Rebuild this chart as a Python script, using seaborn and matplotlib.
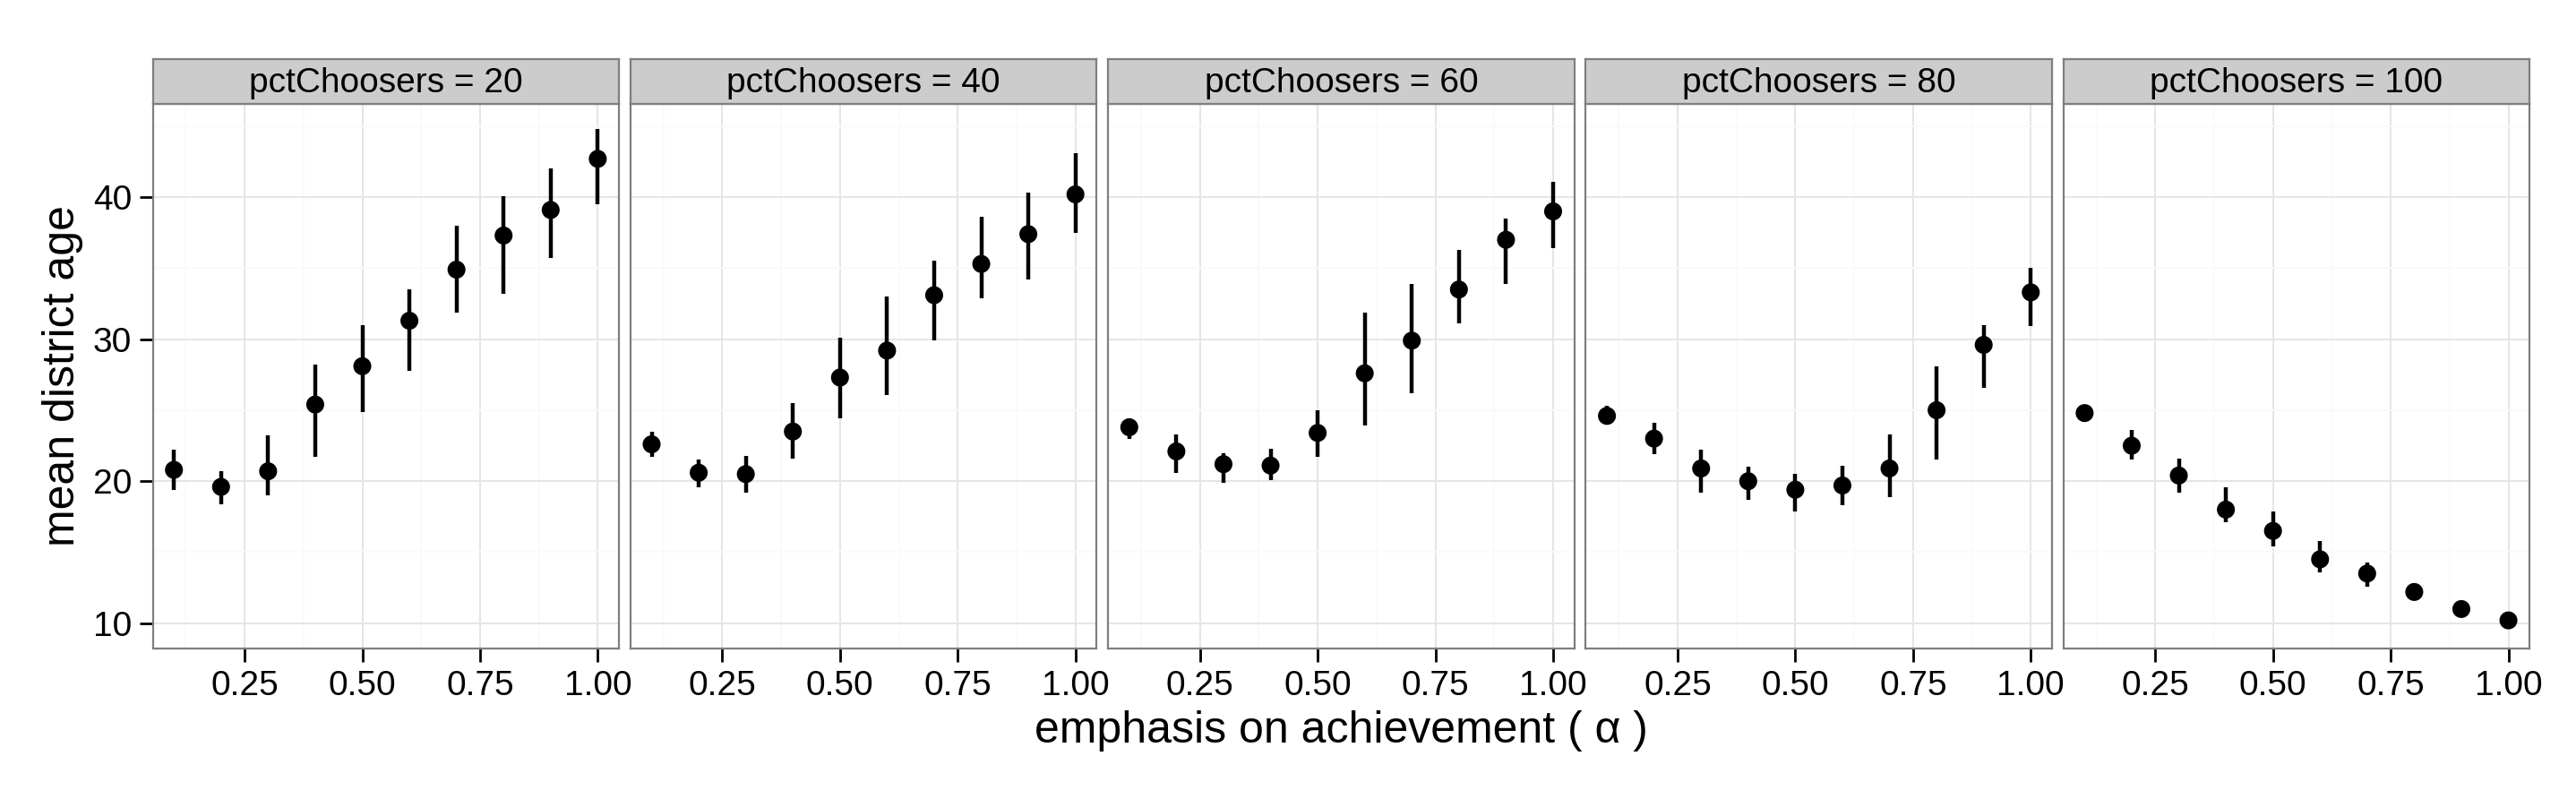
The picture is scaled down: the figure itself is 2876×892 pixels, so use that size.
import pandas as pd
import matplotlib
matplotlib.use("Agg")
import matplotlib.pyplot as plt
import seaborn as sns

# emphasis on achievement (alpha) values, shared by all panels
alpha = [0.1, 0.2, 0.3, 0.4, 0.5, 0.6, 0.7, 0.8, 0.9, 1.0]
pct_choosers = [20, 40, 60, 80, 100]

# mean district age and interval bounds
age_20 = [20.8, 19.6, 20.7, 25.4, 28.1, 31.3, 34.9, 37.3, 39.1, 42.7]
lo_20 = [19.4, 18.4, 19.0, 21.7, 24.9, 27.8, 31.9, 33.2, 35.7, 39.5]
hi_20 = [22.2, 20.7, 23.2, 28.2, 31.0, 33.5, 38.0, 40.1, 42.0, 44.8]

age_40 = [22.6, 20.6, 20.5, 23.5, 27.3, 29.2, 33.1, 35.3, 37.4, 40.2]
lo_40 = [21.7, 19.6, 19.2, 21.6, 24.4, 26.1, 29.9, 32.9, 34.2, 37.5]
hi_40 = [23.5, 21.5, 21.8, 25.5, 30.1, 33.0, 35.5, 38.6, 40.3, 43.1]

age_60 = [23.8, 22.1, 21.2, 21.1, 23.4, 27.6, 29.9, 33.5, 37.0, 39.0]
lo_60 = [23.0, 20.6, 19.9, 20.1, 21.7, 23.9, 26.2, 31.1, 33.9, 36.4]
hi_60 = [24.4, 23.3, 22.0, 22.3, 25.0, 31.9, 33.9, 36.3, 38.5, 41.1]

age_80 = [24.6, 23.0, 20.9, 20.0, 19.4, 19.7, 20.9, 25.0, 29.6, 33.3]
lo_80 = [24.1, 21.9, 19.2, 18.7, 17.9, 18.3, 18.9, 21.5, 26.6, 30.9]
hi_80 = [25.3, 24.1, 22.2, 21.0, 20.5, 21.1, 23.3, 28.1, 31.0, 35.0]

age_100 = [24.8, 22.5, 20.4, 18.0, 16.5, 14.5, 13.5, 12.2, 11.0, 10.2]
lo_100 = [24.2, 21.5, 19.2, 17.1, 15.4, 13.6, 12.6, 11.9, 10.8, 10.1]
hi_100 = [25.3, 23.6, 21.6, 19.6, 17.9, 15.8, 14.3, 12.8, 11.2, 10.4]

series = {
    20: (age_20, lo_20, hi_20),
    40: (age_40, lo_40, hi_40),
    60: (age_60, lo_60, hi_60),
    80: (age_80, lo_80, hi_80),
    100: (age_100, lo_100, hi_100),
}

frames = []
for p in pct_choosers:
    age, lo, hi = series[p]
    frames.append(pd.DataFrame({'alpha': alpha, 'pctChoosers': p,
                                'age': age, 'lo': lo, 'hi': hi}))
df = pd.concat(frames, ignore_index=True)

sns.set_style("white")
plt.rcParams['font.family'] = ['Liberation Sans', 'DejaVu Sans']
plt.rcParams['text.color'] = 'black'
plt.rcParams['axes.labelcolor'] = 'black'
plt.rcParams['xtick.color'] = 'black'
plt.rcParams['ytick.color'] = 'black'


def draw_ranges(data, **kws):
    ax = plt.gca()
    ax.vlines(data['alpha'], data['lo'], data['hi'], color='black',
              linewidth=1.6, zorder=3)


g = sns.FacetGrid(df, col='pctChoosers', col_order=pct_choosers,
                  sharex=True, sharey=True, height=4, aspect=0.6)
g.map_dataframe(draw_ranges)
g.map_dataframe(sns.scatterplot, x='alpha', y='age', color='black',
                s=52, edgecolor='none', zorder=4)

fig = g.figure
fig.set_size_inches(14.38, 4.46)
fig.subplots_adjust(left=0.0593, right=0.982, bottom=0.188, top=0.8705,
                    wspace=0.0246)
g.set_titles("")
g.set_axis_labels("", "")

for i, (ax, p) in enumerate(zip(g.axes.flat, pct_choosers)):
    ax.set_xlim(0.055, 1.045)
    ax.set_ylim(8.2, 46.6)
    ax.set_xticks([0.25, 0.5, 0.75, 1.0])
    ax.set_xticklabels(['0.25', '0.50', '0.75', '1.00'])
    ax.set_yticks([10, 20, 30, 40])
    ax.xaxis.set_minor_locator(plt.FixedLocator([0.125, 0.375, 0.625, 0.875]))
    ax.yaxis.set_minor_locator(plt.FixedLocator([15, 25, 35, 45]))
    ax.set_axisbelow(True)
    ax.grid(which='major', color='#E5E5E5', linewidth=0.7)
    ax.grid(which='minor', color='#FAFAFA', linewidth=0.7)
    for sp in ax.spines.values():
        sp.set_visible(True)
        sp.set_color('#7F7F7F')
        sp.set_linewidth(0.8)
    ax.tick_params(which='major', direction='out', length=5.5, width=1.0,
                   color='black', labelsize=14, pad=3, labelcolor='black')
    ax.tick_params(which='minor', length=0)
    ax.tick_params(axis='x', bottom=True)
    if i == 0:
        ax.tick_params(axis='y', left=True)
    else:
        ax.tick_params(axis='y', left=False, labelleft=False)

    pos = ax.get_position()
    sax = fig.add_axes([pos.x0, pos.y1, pos.width, 0.0555])
    sax.set_facecolor('#CCCCCC')
    sax.set_xticks([])
    sax.set_yticks([])
    for sp in sax.spines.values():
        sp.set_visible(True)
        sp.set_color('#7F7F7F')
        sp.set_linewidth(0.8)
    sax.text(0.5, 0.45, f"pctChoosers = {p}", ha='center', va='center',
             fontsize=14, color='black', transform=sax.transAxes)

first = g.axes.flat[0].get_position()
last = g.axes.flat[-1].get_position()
fig.text((first.x0 + last.x1) / 2, 0.085, "emphasis on achievement ( α )",
         ha='center', va='center', fontsize=18, color='black')
fig.text(0.0243, (first.y0 + first.y1) / 2, "mean district age",
         ha='center', va='center', rotation=90, fontsize=18, color='black')

fig.savefig('out.png', dpi=200, facecolor='white')
